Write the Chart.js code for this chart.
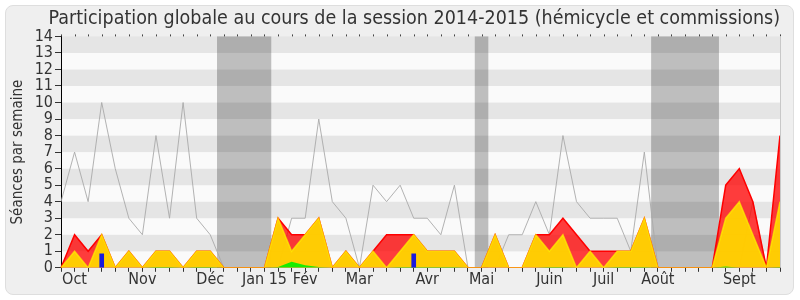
<!DOCTYPE html>
<html>
<head>
<meta charset="utf-8">
<script src="https://cdn.jsdelivr.net/npm/chart.js@4"></script>
<style>
  body { margin: 0; background: #fff; }
  #panel { position: absolute; left: 5px; top: 5px; width: 787px; height: 288px;
           border: 1px solid #dedede; border-radius: 8px; background: #efefef; }
  #wrap { position: absolute; left: 0; top: 0; width: 800px; height: 300px; }
</style>
</head>
<body>
<div id="panel"></div>
<div id="wrap"><canvas id="graphe" width="800" height="300"></canvas></div>
<script>
// semaines de la session (oct 2014 -> sept 2015), un libellé par mois
const semaines = ['', 'Oct', '', '', '', '', 'Nov', '', '', '', '', 'Déc', '', '', '', 'Jan 15', '', '', 'Fév', '', '', '', 'Mar', '', '', '', '', 'Avr', '', '', '', 'Mai', '', '', '', '', 'Juin', '', '', '', 'Juil', '', '', '', 'Août', '', '', '', '', '', 'Sept', '', '', ''];

// séances par semaine
const presences = [0, 2, 1, 2, 0, 1, 0, 1, 1, 0, 1, 1, 0, 0, 0, 0, 3, 2, 2, 3, 0, 1, 0, 1, 2, 2, 2, 1, 1, 1, 0, 0, 2, 0, 0, 2, 2, 3, 2, 1, 1, 1, 1, 3, 0, 0, 0, 0, 0, 5, 6, 4, 0, 8];
const participations = [0, 1, 0, 2, 0, 1, 0, 1, 1, 0, 1, 1, 0, 0, 0, 0, 3, 1, 2, 3, 0, 1, 0, 1, 0, 1, 2, 1, 1, 1, 0, 0, 2, 0, 0, 2, 1, 2, 0, 1, 0, 1, 1, 3, 0, 0, 0, 0, 0, 3, 4, 2, 0, 4];
const interventions = [0, 0, 0, 0, 0, 0, 0, 0.05, 0.05, 0, 0.05, 0.05, 0, 0, 0, 0, 0.05, 0.37, 0.15, 0.05, 0, 0, 0, 0, 0, 0.05, 0.05, 0.05, 0.05, 0.05, 0, 0, 0, 0, 0, 0, 0.05, 0.05, 0, 0, 0, 0.05, 0.05, 0.05, 0, 0, 0, 0, 0, 0.08, 0, 0, 0, 0.05];
const questions = [null, null, null, 0.85, null, null, null, null, null, null, null, null, null, null, null, null, null, null, null, null, null, null, null, null, null, null, 0.85, null, null, null, null, null, null, null, null, null, null, null, null, null, null, null, null, null, null, null, null, null, null, null, null, null, null, null];
const mediane = [4, 7, 4, 10, 6, 3, 2, 8, 3, 10, 3, 2, 0, 0, 0, 0, 0, 3, 3, 9, 4, 3, 0, 5, 4, 5, 3, 3, 2, 5, 0, 0, 0, 2, 2, 4, 2, 8, 4, 3, 3, 3, 1, 7, 0, 0, 0, 0, 0, 0, 0, 4, 0, 0];

// vacances parlementaires (en semaines)
const vacances = [[11.5, 15.5], [30.5, 31.5], [43.5, 48.5]];
const yTicks = [0, 1, 2, 3, 4, 5, 6, 7, 8, 9, 10, 11, 12, 13, 14];

const police = "'DejaVu Sans Condensed', 'DejaVu Sans', sans-serif";

const fond = {
  id: 'fond',
  beforeDatasetsDraw(chart) {
    const { ctx, chartArea: a, scales } = chart;
    ctx.save();
    for (let v = 0; v < yTicks.length - 1; v++) {
      const y1 = scales.y.getPixelForValue(yTicks[v]);
      const y2 = scales.y.getPixelForValue(yTicks[v + 1]);
      ctx.fillStyle = v % 2 ? '#e5e5e5' : '#fafafa';
      ctx.fillRect(a.left + 1, y2, a.right - a.left - 1, y1 - y2);
    }
    ctx.fillStyle = 'rgba(0,0,0,0.24)';
    vacances.forEach(([d, f]) => {
      const x1 = scales.x.getPixelForValue(d);
      const x2 = scales.x.getPixelForValue(f);
      ctx.fillRect(x1, a.top, x2 - x1, a.bottom - a.top);
    });
    ctx.restore();
  },
  afterDraw(chart) {
    const { ctx, chartArea: a, scales } = chart;
    ctx.save();
    ctx.fillStyle = '#444';
    semaines.forEach((s, i) => {
      const x = Math.round(scales.x.getPixelForValue(i));
      ctx.fillRect(x, a.top - 2, 1, 2);
    });
    ctx.strokeStyle = '#c8c8c8';
    ctx.beginPath();
    ctx.moveTo(a.right + 0.5, a.top);
    ctx.lineTo(a.right + 0.5, a.bottom);
    ctx.stroke();
    ctx.restore();
  }
};

const ctx = document.getElementById('graphe').getContext('2d');
new Chart(ctx, {
  data: {
    labels: semaines,
    datasets: [
      {
        type: 'line', data: mediane, order: 5,
        borderColor: 'rgba(170,170,170,0.9)', borderWidth: 1,
        pointRadius: 0, fill: false, tension: 0
      },
      {
        type: 'line', data: presences, order: 4,
        borderColor: '#ff0000', borderWidth: 1.5,
        backgroundColor: 'rgba(255,0,0,0.76)',
        pointRadius: 0, fill: 'origin', tension: 0
      },
      {
        type: 'line', data: participations, order: 3,
        borderColor: 'rgba(255,240,0,0.7)', borderWidth: 1.5,
        backgroundColor: 'rgba(255,212,0,0.95)',
        pointRadius: 0, fill: 'origin', tension: 0
      },
      {
        type: 'line', data: interventions, order: 2,
        borderColor: 'rgba(0,230,0,0.9)', borderWidth: 0,
        backgroundColor: 'rgba(0,240,0,0.9)',
        pointRadius: 0, fill: 'origin', tension: 0
      },
      {
        type: 'bar', data: questions, order: 1,
        backgroundColor: '#1a1add', barThickness: 4
      }
    ]
  },
  options: {
    responsive: false,
    animation: false,
    layout: { padding: { left: 0, right: 20, top: 3, bottom: 13 } },
    plugins: {
      legend: { display: false },
      tooltip: { enabled: false },
      title: {
        display: true, align: 'end',
        text: 'Participation globale au cours de la session 2014-2015 (hémicycle et commissions)',
        color: '#333', font: { family: police, size: 19.5, weight: 'normal' },
        padding: { top: 4, bottom: 6 }
      }
    },
    scales: {
      x: {
        type: 'category', offset: false,
        border: { color: '#000', width: 1 },
        grid: { display: true, drawOnChartArea: false, offset: false, tickLength: 4, color: '#333' },
        ticks: { autoSkip: false, maxRotation: 0, padding: -2, color: '#333', font: { family: police, size: 16 } }
      },
      y: {
        min: 0, max: 14,
        afterFit(s) { s.width = 61; },
        border: { color: '#000', width: 1 },
        grid: { display: true, drawOnChartArea: false, tickLength: 6, color: '#333' },
        ticks: { stepSize: 1, autoSkip: false, padding: 2, color: '#333', font: { family: police, size: 16 } },
        title: {
          display: true, text: 'Séances par semaine', color: '#333',
          font: { family: police, size: 15 }, padding: { top: 9, bottom: 0 }
        }
      }
    }
  },
  plugins: [fond]
});
</script>
</body>
</html>
